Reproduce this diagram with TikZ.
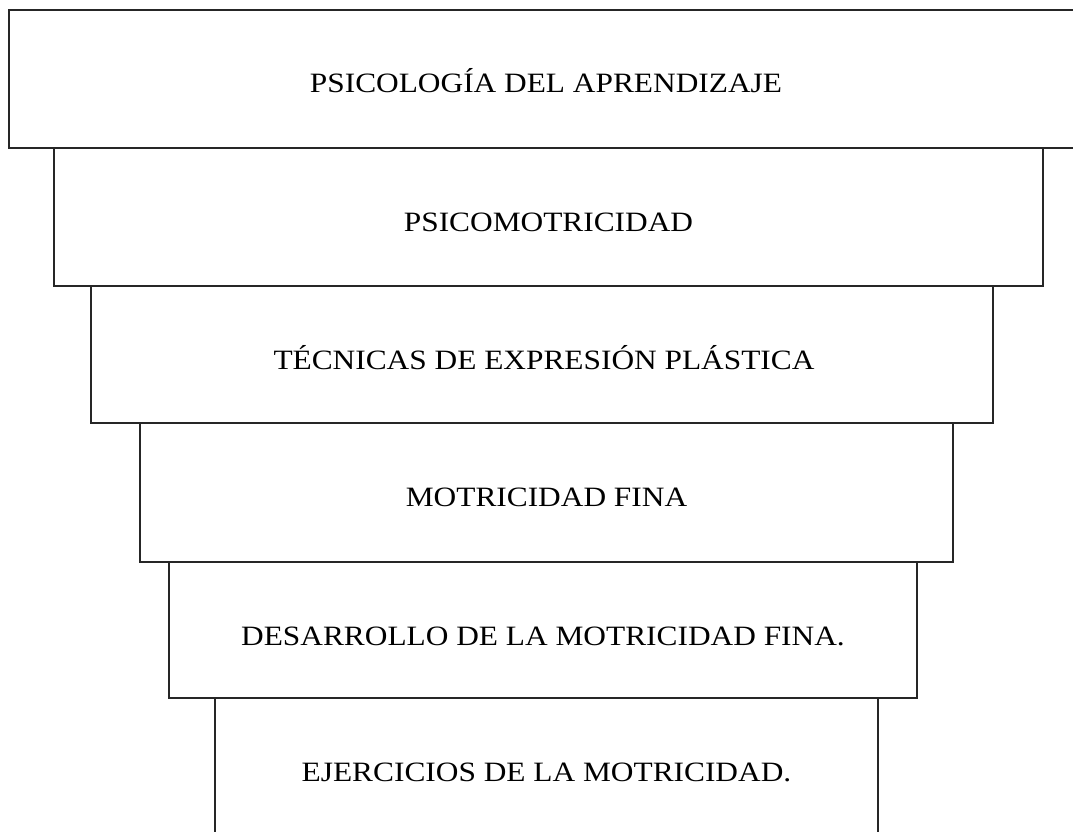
\documentclass[tikz,border=0pt]{standalone}
\usepackage{fontspec}
\setmainfont[FakeStretch=1.12]{Liberation Serif}
\begin{document}
\begin{tikzpicture}[x=1pt,y=-1pt,
  stepbox/.style={draw=black!85, line width=1.6pt, fill=white, inner sep=0pt, rectangle},
  lbl/.style={anchor=base, inner sep=0pt, font=\fontsize{28}{33}\selectfont, text=black}]
\useasboundingbox (0,0) rectangle (1073,832);
\clip (0,0) rectangle (1073,832);
\fill[white] (0,0) rectangle (1073,832);
\node[stepbox, minimum width=1068pt, minimum height=138pt] (b1) at (543,79) {};
\node[stepbox, minimum width=989pt, minimum height=138pt] (b2) at (548.5,217) {};
\node[stepbox, minimum width=902pt, minimum height=137pt] (b3) at (542,354.5) {};
\node[stepbox, minimum width=813pt, minimum height=139pt] (b4) at (546.5,492.5) {};
\node[stepbox, minimum width=748pt, minimum height=136pt] (b5) at (543,630) {};
\node[stepbox, minimum width=663pt, minimum height=138pt] (b6) at (546.5,767) {};
\node[lbl] (t1) at (546,93) {PSICOLOGÍA DEL APRENDIZAJE};
\node[lbl] (t2) at (548.5,231) {PSICOMOTRICIDAD};
\node[lbl] (t3) at (544,369) {TÉCNICAS DE EXPRESIÓN PLÁSTICA};
\node[lbl] (t4) at (546.5,506) {MOTRICIDAD FINA};
\node[lbl] (t5) at (543,645) {DESARROLLO DE LA MOTRICIDAD FINA.};
\node[lbl] (t6) at (546.5,781) {EJERCICIOS DE LA MOTRICIDAD.};
\end{tikzpicture}
\end{document}
